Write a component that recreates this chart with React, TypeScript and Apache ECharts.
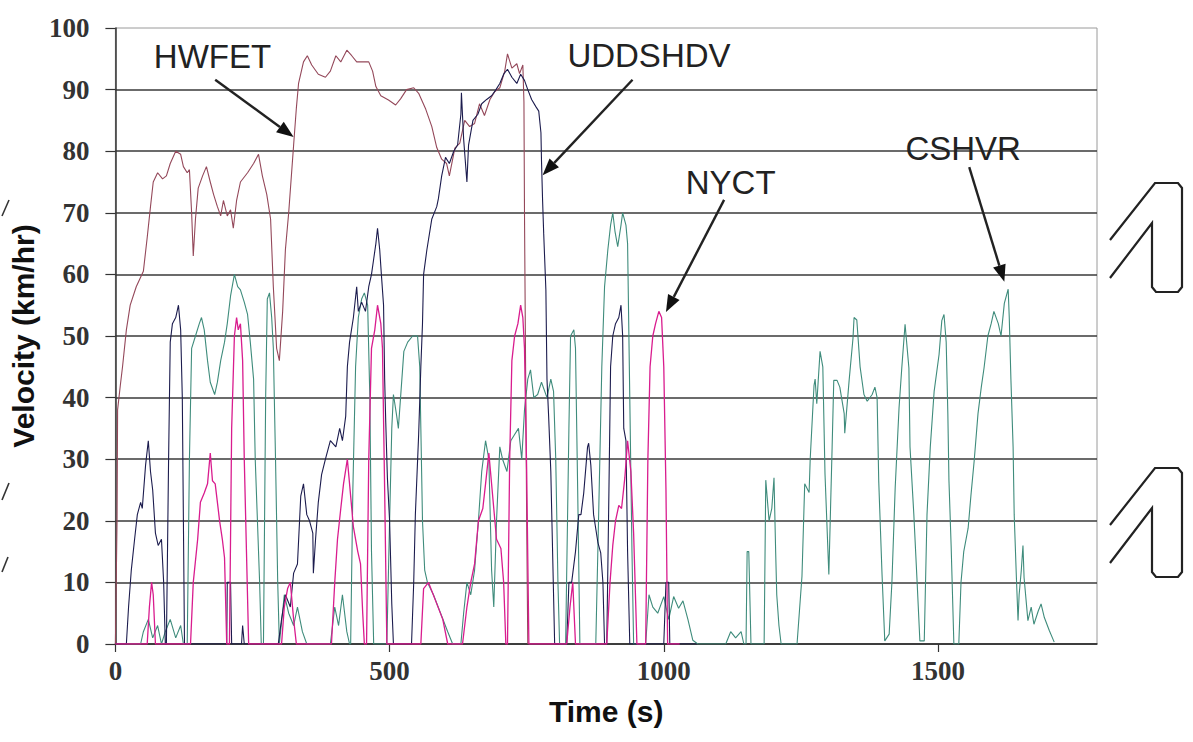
import React, { useEffect, useRef } from "react";
import * as echarts from "echarts";

// Time (s) / velocity (km/hr) vertices
const X_TICKS = [0, 500, 1000, 1500];

const HWFET: number[][] = [
  [0, 0], [3, 20], [4, 38], [9, 42], [13, 45], [20, 51], [27, 55], [38, 58], [51, 60.5], [58, 66],
  [64, 71], [69, 75], [77, 76.5], [86, 75.5], [93, 76], [100, 78], [110, 80], [119, 79.5], [124, 77.5],
  [131, 76.5], [135, 77], [139, 70], [142, 63], [146, 69], [151, 74], [159, 76], [166, 77.5], [173, 75],
  [179, 73], [186, 71], [192, 69.5], [197, 72], [204, 69.5], [210, 70.5], [215, 67.5], [221, 72],
  [228, 75], [241, 76.5], [252, 78], [261, 79.5], [268, 76], [276, 73], [283, 69], [288, 58], [294, 48],
  [299, 46], [305, 54], [310, 64], [316, 70], [325, 81], [330, 87], [334, 91], [343, 94.5], [350, 95.5],
  [358, 94], [370, 92.5], [383, 92], [392, 93], [402, 95.5], [411, 94.5], [422, 96.4], [431, 95.5],
  [440, 94.5], [462, 94.5], [469, 93], [475, 90.5], [484, 89], [498, 88.3], [511, 87.5], [520, 88.5],
  [531, 90], [544, 90.3], [553, 89.4], [566, 86.8], [577, 84], [586, 80.6], [595, 78.7], [604, 78],
  [609, 76], [619, 80.5], [628, 81.3], [637, 85], [646, 84], [655, 84.5], [664, 87.7], [673, 85.8],
  [683, 88.4], [692, 89.7], [701, 90.3], [710, 93], [715, 95.8], [723, 93.5], [732, 94.2], [737, 92.6],
  [743, 94], [745, 88], [746, 70], [748, 45], [750, 20], [752, 0],
];

const UDDSHDV: number[][] = [
  [0, 0], [20, 0], [24, 6], [29, 12], [35, 17], [40, 21], [46, 23], [49, 22], [55, 29], [60, 33],
  [64, 28], [68, 25], [73, 18], [78, 16], [84, 17], [88, 10], [91, 0], [93, 0], [97, 30], [100, 49],
  [104, 52], [110, 53], [115, 55], [119, 51], [122, 40], [126, 0], [203, 0], [204, 10], [210, 10],
  [212, 0], [230, 0], [232, 3], [235, 0], [297, 0], [303, 4], [310, 8], [319, 6], [325, 11.5], [332, 13],
  [338, 24], [343, 26], [349, 21], [354, 20], [360, 18], [361, 11.5], [365, 17], [370, 23], [376, 27.5],
  [383, 30], [392, 33], [402, 32], [409, 35], [414, 33], [420, 37], [423, 45], [427, 49], [434, 53],
  [440, 58], [443, 54], [449, 55.5], [456, 54], [462, 58], [467, 60], [471, 62.5], [475, 65], [478, 67.5],
  [482, 64], [485, 60], [489, 55], [491, 43], [493, 36], [496, 27], [500, 20], [504, 6.5], [507, 0],
  [540, 0], [544, 10], [547, 21], [553, 34], [557, 45], [560, 52], [562, 60], [568, 64], [577, 69],
  [586, 71], [589, 72.3], [595, 76], [602, 79], [609, 78], [617, 80], [624, 81], [630, 86], [631, 89.5],
  [635, 82], [641, 75], [644, 81], [652, 85], [661, 86], [668, 87.7], [677, 88.4], [686, 89], [694, 90],
  [701, 91], [708, 92.5], [715, 93.3], [723, 92], [732, 91], [739, 92.5], [746, 91.5], [752, 90],
  [759, 88.4], [767, 87.2], [772, 86.5], [776, 83], [777, 78.5], [779, 72], [781, 66.7], [785, 57.5],
  [787, 43], [790, 37], [794, 28], [796, 20], [799, 8], [801, 0], [823, 0], [827, 10], [832, 10],
  [839, 15], [845, 21], [849, 21], [854, 24.5], [861, 32], [863, 32.6], [867, 29], [872, 21], [880, 16.4],
  [885, 14.8], [889, 10], [892, 0], [896, 0], [900, 25], [903, 45], [907, 50], [912, 52], [918, 53],
  [922, 55], [925, 50], [927, 35], [931, 33], [934, 15], [938, 0], [1000, 0], [1004, 10], [1009, 10],
  [1011, 0], [1060, 0],
];

const NYCT: number[][] = [
  [0, 0], [58, 0], [62, 6], [66, 10], [69, 8], [73, 0], [137, 0], [142, 10], [150, 17], [155, 23],
  [162, 24.5], [168, 26], [173, 31], [177, 26.5], [182, 26], [190, 20], [195, 17], [199, 14], [203, 0],
  [208, 0], [212, 35], [217, 50], [221, 53], [224, 51], [228, 52], [232, 46], [235, 30], [239, 15],
  [243, 0], [303, 0], [308, 6], [314, 9], [319, 10], [325, 4], [330, 0], [394, 0], [400, 10], [405, 17],
  [411, 22], [416, 26], [423, 30], [429, 24], [434, 19], [442, 15], [447, 13], [451, 5], [454, 0],
  [458, 0], [462, 30], [467, 48], [473, 51], [478, 55], [484, 52], [487, 48], [491, 25], [495, 0],
  [557, 0], [562, 9], [571, 10], [584, 7], [597, 4], [606, 0], [633, 0], [641, 6], [648, 10], [655, 13],
  [662, 20], [670, 22], [675, 26], [681, 31], [684, 28], [690, 22], [695, 17], [703, 15.5], [708, 10],
  [712, 0], [715, 0], [719, 30], [723, 46], [728, 50], [734, 52], [739, 55], [743, 53], [746, 48],
  [750, 28], [754, 0], [823, 0], [829, 6], [834, 10], [839, 0], [896, 0], [902, 10], [907, 16],
  [912, 20], [918, 22.5], [923, 22], [929, 27], [934, 33], [940, 28], [945, 18], [951, 0], [967, 0],
  [971, 30], [975, 45], [980, 50], [985, 52], [991, 54], [996, 53], [1000, 45], [1004, 25], [1007, 0],
  [1029, 0],
];

const CSHVR: number[][] = [
  [0, 0], [46, 0], [51, 2], [60, 4], [68, 1], [77, 3], [84, 0], [91, 2], [100, 4], [110, 1], [119, 3],
  [124, 0], [131, 0], [135, 30], [139, 48], [146, 50], [153, 52], [157, 53], [162, 51], [168, 46],
  [173, 42.5], [181, 40.5], [186, 42.5], [192, 46], [199, 49], [204, 52], [210, 56.5], [217, 60],
  [223, 58], [228, 57.5], [235, 55.5], [241, 53.5], [246, 49], [252, 43], [255, 30], [259, 20],
  [263, 10], [266, 0], [270, 0], [274, 40], [277, 56], [281, 57], [285, 53], [288, 48], [292, 30],
  [296, 10], [299, 0], [308, 8], [316, 5], [325, 3], [332, 6], [341, 2], [349, 0], [392, 0], [400, 6],
  [407, 3], [414, 8], [422, 2], [427, 0], [429, 0], [433, 25], [438, 45], [443, 53], [449, 56], [454, 57],
  [460, 55], [464, 40], [467, 15], [471, 0], [495, 0], [500, 20], [504, 35], [507, 40.5], [513, 37],
  [516, 35], [520, 40], [526, 47.5], [533, 49], [542, 50], [551, 50], [555, 45], [557, 35], [560, 20],
  [564, 12], [569, 10], [580, 8], [593, 5], [606, 2], [615, 0], [630, 0], [635, 5], [641, 10], [648, 8],
  [655, 12], [662, 20], [668, 28], [675, 33], [681, 30], [686, 12], [690, 6], [695, 20], [701, 32],
  [706, 30], [714, 28], [721, 33], [728, 34], [735, 35], [741, 30], [746, 38], [752, 43], [757, 44.5],
  [763, 40], [770, 40.5], [777, 42.5], [787, 40], [794, 43], [799, 41], [803, 30], [807, 10], [810, 0],
  [821, 0], [827, 35], [830, 50], [836, 51], [839, 48], [843, 25], [847, 0], [876, 0], [881, 20],
  [887, 45], [892, 58], [898, 64], [903, 68], [907, 70], [911, 67], [916, 64.5], [922, 68], [925, 70],
  [931, 68], [934, 65], [938, 40], [942, 15], [945, 0], [967, 0], [973, 8], [980, 6], [989, 5],
  [1000, 7.7], [1009, 4], [1018, 7.7], [1027, 5.8], [1035, 7], [1044, 4], [1053, 0.6], [1062, 0],
  [1113, 0], [1122, 2], [1131, 1], [1141, 2], [1146, 0], [1150, 0], [1152, 15], [1155, 15], [1159, 0],
  [1183, 0], [1186, 26.6], [1192, 20], [1197, 22], [1201, 27], [1204, 15], [1206, 8], [1210, 3],
  [1214, 0], [1243, 0], [1252, 11], [1257, 26], [1265, 24.6], [1267, 30], [1274, 42], [1276, 43],
  [1279, 39], [1285, 47.5], [1290, 45], [1294, 27.6], [1301, 11.3], [1307, 32], [1310, 42.8],
  [1316, 42.8], [1321, 41.7], [1329, 37.4], [1330, 34.2], [1338, 42.8], [1345, 49.6], [1347, 53],
  [1352, 52.6], [1358, 45], [1365, 40.5], [1371, 39.4], [1380, 40.5], [1385, 41.7], [1389, 40],
  [1392, 26.4], [1398, 11.3], [1403, 0.5], [1411, 1.6], [1416, 10], [1422, 25.4], [1429, 38.3],
  [1434, 44.8], [1440, 51.9], [1447, 44.8], [1449, 32], [1456, 21], [1462, 10], [1467, 0.5], [1475, 0.5],
  [1480, 21], [1486, 32], [1493, 41], [1502, 47], [1507, 52.5], [1511, 53.5], [1515, 49], [1518, 37.4],
  [1520, 26.6], [1524, 16], [1529, 0], [1538, 0], [1542, 10], [1547, 15], [1555, 18.8], [1560, 24],
  [1566, 29.7], [1573, 37.4], [1579, 41.7], [1584, 44.8], [1591, 50], [1597, 52], [1602, 54], [1610, 52],
  [1615, 50], [1621, 55.3], [1628, 57.6], [1630, 53], [1633, 43], [1637, 32], [1639, 21], [1643, 10.8],
  [1646, 3.8], [1648, 8], [1652, 12], [1655, 16], [1657, 10.8], [1664, 3.8], [1670, 6], [1675, 3.2],
  [1683, 5.4], [1688, 6.5], [1694, 4.3], [1703, 2.2], [1712, 0.3],
];

// Annotation labels: [name, textT, textV, arrowFromT, arrowFromV, arrowToT, arrowToV]
const NOTES: [string, number, number, number, number, number, number][] = [
  ["HWFET", 177, 95.3, 182, 91.6, 325, 82.3],
  ["UDDSHDV", 973, 95.6, 943, 91.6, 779, 76.1],
  ["NYCT", 1122, 75.0, 1110, 72.1, 1004, 53.9],
  ["CSHVR", 1546, 80.5, 1557, 77.4, 1621, 58.8],
];

const SANS = '"Liberation Sans", Arial, Helvetica, sans-serif';
const SERIF = '"Liberation Serif", "Times New Roman", Times, serif';

function arrow(p1: number[], p2: number[]) {
  const dx = p2[0] - p1[0];
  const dy = p2[1] - p1[1];
  const len = Math.hypot(dx, dy);
  const ux = dx / len;
  const uy = dy / len;
  const L = 17;
  const W = 6.5;
  const bx = p2[0] - ux * L;
  const by = p2[1] - uy * L;
  return [
    { type: "line", silent: true, shape: { x1: p1[0], y1: p1[1], x2: bx, y2: by }, style: { stroke: "#222", lineWidth: 2.4 } },
    {
      type: "polygon",
      silent: true,
      shape: { points: [[p2[0], p2[1]], [bx - uy * W, by + ux * W], [bx + uy * W, by - ux * W]] },
      style: { fill: "#111" },
    },
  ];
}

function outline1(ox: number, oy: number) {
  // decorative outlined "1" glyph at the right edge of the scan
  return {
    type: "polyline",
    silent: true,
    shape: {
      points: [
        [ox, oy + 57], [ox + 45, oy], [ox + 68, oy], [ox + 72, oy + 5], [ox + 72, oy + 104], [ox + 68, oy + 109],
        [ox + 46, oy + 109], [ox + 42, oy + 104], [ox + 42, oy + 40], [ox, oy + 95],
      ],
    },
    style: { stroke: "#222", lineWidth: 2.2, fill: null },
  };
}

export default function App() {
  const ref = useRef<HTMLDivElement>(null);
  useEffect(() => {
    const el = ref.current as HTMLDivElement;
    const chart = echarts.init(el, null, { renderer: "svg" });
    const mk = (name: string, data: number[][], color: string, z: number, width = 1.1) => ({
      name,
      type: "line",
      data,
      showSymbol: false,
      symbol: "none",
      silent: true,
      z,
      lineStyle: { color, width },
      itemStyle: { color },
    });
    chart.setOption({
      animation: false,
      backgroundColor: "#ffffff",
      grid: { left: 115, right: 96, top: 28, bottom: 98, show: true, borderColor: "#9a9a9a", borderWidth: 1, backgroundColor: "transparent" },
      xAxis: {
        type: "value",
        min: 0,
        max: 1790,
        interval: 500,
        name: "Time (s)",
        nameLocation: "middle",
        nameGap: 52,
        nameTextStyle: { fontFamily: SANS, fontSize: 30, fontWeight: "bold", color: "#111" },
        axisLine: { show: true, lineStyle: { color: "#333", width: 1.5 } },
        axisTick: { show: true, length: 8, customValues: X_TICKS, lineStyle: { color: "#333", width: 1.2 } },
        axisLabel: {
          customValues: X_TICKS,
          formatter: (v: number) => String(v),
          margin: 13,
          fontFamily: SERIF,
          fontSize: 27,
          fontWeight: "bold",
          color: "#333",
        },
        splitLine: { show: false },
      },
      yAxis: {
        type: "value",
        min: 0,
        max: 100,
        interval: 10,
        name: "Velocity (km/hr)",
        nameLocation: "middle",
        nameRotate: 90,
        nameGap: 75,
        nameTextStyle: { fontFamily: SANS, fontSize: 30, fontWeight: "bold", color: "#111" },
        axisLine: { show: true, lineStyle: { color: "#333", width: 1.5 } },
        axisTick: { show: true, length: 10, lineStyle: { color: "#333", width: 1.2 } },
        axisLabel: { formatter: (v: number) => String(v), margin: 26, fontFamily: SERIF, fontSize: 27, fontWeight: "bold", color: "#333" },
        splitLine: { show: true, showMaxLine: false, lineStyle: { color: "#3a3a3a", width: 1.6 } },
      },
      series: [
        mk("CSHVR", CSHVR, "#3f8c7c", 2),
        mk("HWFET", HWFET, "#94485a", 3),
        mk("UDDSHDV", UDDSHDV, "#1c1c4e", 4),
        mk("NYCT", NYCT, "#d91c8e", 5, 1.3),
      ],
    });

    const px = (t: number, v: number) => chart.convertToPixel({ gridIndex: 0 }, [t, v]) as number[];
    const graphics: any[] = [];
    NOTES.forEach(([name, tt, tv, ft, fv, et, ev]) => {
      const p = px(tt, tv);
      graphics.push({
        type: "text",
        silent: true,
        x: p[0],
        y: p[1],
        style: { text: name, fontFamily: SANS, fontSize: 33, fill: "#222", align: "center", verticalAlign: "middle" },
      });
      graphics.push(...arrow(px(ft, fv), px(et, ev)));
    });
    graphics.push(outline1(1110, 183));
    graphics.push(outline1(1110, 468));
    [[2, 216, 9, 200], [2, 500, 9, 483], [2, 572, 8, 557]].forEach(([a, b, c, d]) => {
      graphics.push({ type: "line", silent: true, shape: { x1: a, y1: b, x2: c, y2: d }, style: { stroke: "#333", lineWidth: 1.6 } });
    });
    chart.setOption({ graphic: graphics });

    return () => chart.dispose();
  }, []);
  return <div ref={ref} style={{ position: "fixed", left: 0, top: 0, width: 1193, height: 742, background: "#fff" }} />;
}
